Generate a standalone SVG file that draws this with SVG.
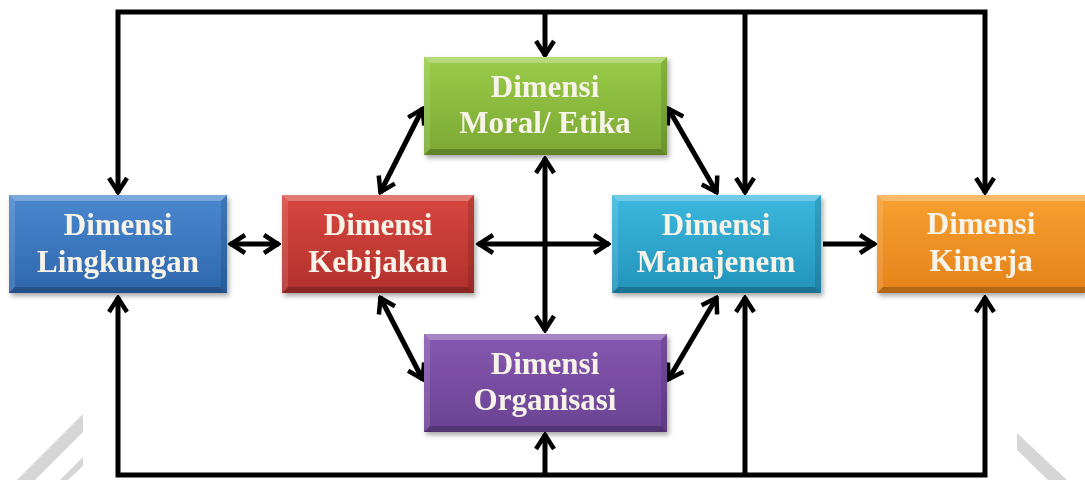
<svg xmlns="http://www.w3.org/2000/svg" width="1085" height="480" viewBox="0 0 1085 480">
<style>
.lbl{font-family:"Liberation Serif","Times New Roman",serif;font-weight:bold;font-size:31px;fill:#f7f3e8;text-anchor:middle}
.con{fill:none;stroke:#000;stroke-width:5}
.hl{fill:#fff;opacity:0.28}
.sh{fill:#000;opacity:0.22}
.sd{fill:#fff;opacity:0.12}
.sr{fill:#000;opacity:0.12}
.wm{fill:#d6d6d6}
</style>
<defs>
<marker id="ah" viewBox="0 0 20 22" refX="18" refY="11" markerWidth="20" markerHeight="22" markerUnits="userSpaceOnUse" orient="auto-start-reverse">
<path d="M3,2 L17,11 L3,20" fill="none" stroke="#000" stroke-width="4.5" stroke-linejoin="miter"/>
</marker>
<filter id="shadow" x="-10%" y="-10%" width="120%" height="130%">
<feDropShadow dx="2" dy="3" stdDeviation="2.5" flood-color="#000" flood-opacity="0.35"/>
</filter>
<linearGradient id="gBlue" x1="0" y1="0" x2="0" y2="1"><stop offset="0" stop-color="#4a88d0"/><stop offset="1" stop-color="#2f67ad"/></linearGradient>
<linearGradient id="gRed" x1="0" y1="0" x2="0" y2="1"><stop offset="0" stop-color="#d8473f"/><stop offset="1" stop-color="#b2302c"/></linearGradient>
<linearGradient id="gGreen" x1="0" y1="0" x2="0" y2="1"><stop offset="0" stop-color="#9acb48"/><stop offset="1" stop-color="#7aa834"/></linearGradient>
<linearGradient id="gCyan" x1="0" y1="0" x2="0" y2="1"><stop offset="0" stop-color="#3cb8de"/><stop offset="1" stop-color="#2393bb"/></linearGradient>
<linearGradient id="gOrange" x1="0" y1="0" x2="0" y2="1"><stop offset="0" stop-color="#f7a030"/><stop offset="1" stop-color="#e5821a"/></linearGradient>
<linearGradient id="gPurple" x1="0" y1="0" x2="0" y2="1"><stop offset="0" stop-color="#8658b0"/><stop offset="1" stop-color="#6a4293"/></linearGradient>
</defs>
<rect width="1085" height="480" fill="#fff"/>
<g id="watermark">
<polygon class="wm" points="17,480 35,480 83,432 83,414"/>
<polygon class="wm" points="60,480 68,480 83,466 83,457"/>
<polygon class="wm" points="1017,433 1017,450 1048,480 1067,480"/>
</g>
<g id="connectors">
<path class="con" d="M118,193 V12 H985 V193" marker-start="url(#ah)" marker-end="url(#ah)"/>
<line class="con" x1="545" y1="12" x2="545" y2="56" marker-end="url(#ah)"/>
<line class="con" x1="745" y1="12" x2="745" y2="193" marker-end="url(#ah)"/>
<path class="con" d="M118,297 V475 H985 V297" marker-start="url(#ah)" marker-end="url(#ah)"/>
<line class="con" x1="545" y1="475" x2="545" y2="434" marker-end="url(#ah)"/>
<line class="con" x1="745" y1="475" x2="745" y2="297" marker-end="url(#ah)"/>
<line class="con" x1="230" y1="244" x2="279" y2="244" marker-start="url(#ah)" marker-end="url(#ah)"/>
<line class="con" x1="478" y1="244" x2="609" y2="244" marker-start="url(#ah)" marker-end="url(#ah)"/>
<line class="con" x1="823" y1="244" x2="875" y2="244" marker-end="url(#ah)"/>
<line class="con" x1="545" y1="158" x2="545" y2="331" marker-start="url(#ah)" marker-end="url(#ah)"/>
<line class="con" x1="380" y1="193" x2="423" y2="108" marker-start="url(#ah)" marker-end="url(#ah)"/>
<line class="con" x1="668" y1="108" x2="717" y2="193" marker-start="url(#ah)" marker-end="url(#ah)"/>
<line class="con" x1="380" y1="297" x2="423" y2="380" marker-start="url(#ah)" marker-end="url(#ah)"/>
<line class="con" x1="717" y1="297" x2="668" y2="380" marker-start="url(#ah)" marker-end="url(#ah)"/>
</g>
<g id="node-lingkungan" filter="url(#shadow)">
<rect x="9" y="195" width="218" height="98" fill="url(#gBlue)"/>
<polygon class="hl" points="9,195 227,195 221,201 15,201"/>
<polygon class="sh" points="9,293 227,293 221,287 15,287"/>
<polygon class="sd" points="9,195 15,201 15,287 9,293"/>
<polygon class="sr" points="227,195 221,201 221,287 227,293"/>
<text class="lbl" x="118" y="235">Dimensi</text>
<text class="lbl" x="118" y="272">Lingkungan</text>
</g>
<g id="node-kebijakan" filter="url(#shadow)">
<rect x="282" y="195" width="192" height="98" fill="url(#gRed)"/>
<polygon class="hl" points="282,195 474,195 468,201 288,201"/>
<polygon class="sh" points="282,293 474,293 468,287 288,287"/>
<polygon class="sd" points="282,195 288,201 288,287 282,293"/>
<polygon class="sr" points="474,195 468,201 468,287 474,293"/>
<text class="lbl" x="378" y="235">Dimensi</text>
<text class="lbl" x="378" y="272">Kebijakan</text>
</g>
<g id="node-moral" filter="url(#shadow)">
<rect x="424" y="57" width="243" height="98" fill="url(#gGreen)"/>
<polygon class="hl" points="424,57 667,57 661,63 430,63"/>
<polygon class="sh" points="424,155 667,155 661,149 430,149"/>
<polygon class="sd" points="424,57 430,63 430,149 424,155"/>
<polygon class="sr" points="667,57 661,63 661,149 667,155"/>
<text class="lbl" x="545" y="97">Dimensi</text>
<text class="lbl" x="545" y="133">Moral/ Etika</text>
</g>
<g id="node-manajenem" filter="url(#shadow)">
<rect x="612" y="195" width="209" height="98" fill="url(#gCyan)"/>
<polygon class="hl" points="612,195 821,195 815,201 618,201"/>
<polygon class="sh" points="612,293 821,293 815,287 618,287"/>
<polygon class="sd" points="612,195 618,201 618,287 612,293"/>
<polygon class="sr" points="821,195 815,201 815,287 821,293"/>
<text class="lbl" x="716" y="235">Dimensi</text>
<text class="lbl" x="716" y="272">Manajenem</text>
</g>
<g id="node-kinerja" filter="url(#shadow)">
<rect x="877" y="195" width="208" height="98" fill="url(#gOrange)"/>
<polygon class="hl" points="877,195 1085,195 1085,201 883,201"/>
<polygon class="sh" points="877,293 1085,293 1085,287 883,287"/>
<polygon class="sd" points="877,195 883,201 883,287 877,293"/>
<text class="lbl" x="981" y="234">Dimensi</text>
<text class="lbl" x="981" y="271">Kinerja</text>
</g>
<g id="node-organisasi" filter="url(#shadow)">
<rect x="424" y="334" width="243" height="98" fill="url(#gPurple)"/>
<polygon class="hl" points="424,334 667,334 661,340 430,340"/>
<polygon class="sh" points="424,432 667,432 661,426 430,426"/>
<polygon class="sd" points="424,334 430,340 430,426 424,432"/>
<polygon class="sr" points="667,334 661,340 661,426 667,432"/>
<text class="lbl" x="545" y="374">Dimensi</text>
<text class="lbl" x="545" y="410">Organisasi</text>
</g>
</svg>
